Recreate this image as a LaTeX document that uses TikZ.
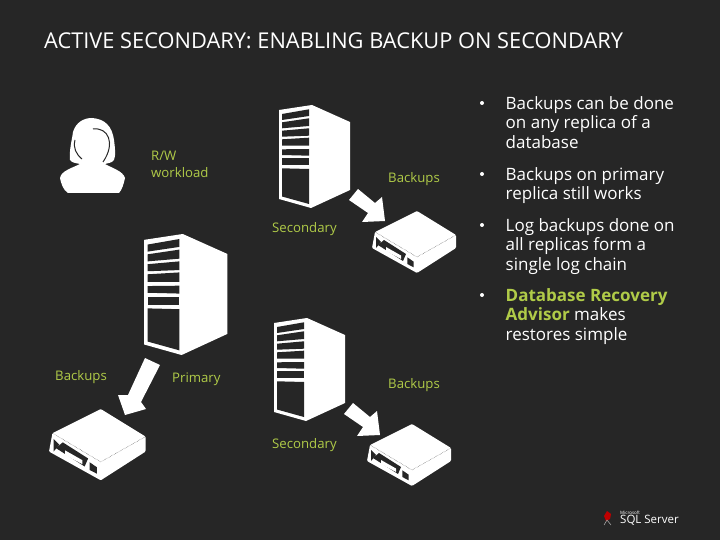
\documentclass[tikz,border=0pt]{standalone}
\usepackage{fontspec}
\setmainfont{Open Sans}
\definecolor{slidebg}{RGB}{38,38,38}
\definecolor{labelgreen}{RGB}{176,203,72}
\tikzset{
	titletext/.style={anchor=west, inner sep=0, white, font=\fontsize{21.8}{24}\selectfont},
	labeltext/.style={anchor=west, inner sep=0, align=left, labelgreen, font=\fontsize{13.2}{17}\selectfont},
	bullettext/.style={anchor=north west, inner sep=0, align=left, white, font=\fontsize{17}{19.5}\selectfont},
	bulletdot/.style={circle, fill=white, inner sep=0, minimum size=4pt},
}
\def\drawserver(#1,#2,#3){
	\begin{scope}[shift={(#1,#2)}, xscale=#3, yscale=#3]
		\fill[white] (0,5) -- (33,0) -- (71,17) -- (71,85) -- (32,103) -- (0,94) -- cycle;
		\foreach \la/\lb/\ra/\rb in {9/15/4.3/11, 17.3/23.3/13.3/21, 25.7/31.7/23.3/30.7, 34.3/40.7/32.7/40.7, 44.3/50/44/50.7, 53.3/60/53.3/60}
			\fill[slidebg] (3,\la) -- (30,\ra) -- (30,\rb) -- (3,\lb) -- cycle;
		\fill[slidebg] (3,63.3) -- (30,64) -- (30,99) -- (3,91.5) -- cycle;
	\end{scope}
}
\def\drawdisk(#1,#2,#3){
	\begin{scope}[shift={(#1,#2)}, xscale=#3, yscale=#3]
		\fill[white, rounded corners=1pt] (3,21) -- (45,0) -- (84,24) -- (84,37) -- (45,62) -- (0,37) -- cycle;
		\draw[slidebg, line width=0.4pt, densely dotted] (3,21) -- (45,46) -- (84,24);
		\fill[slidebg] (4,26) -- (4,37) -- (9,31) -- cycle;
		\fill[slidebg] (6,34) -- (12,29) -- (34,43) -- (31,50) -- cycle;
		\fill[white] (14,36) -- (29,44.5) -- (29,48) -- (14,40) -- cycle;
		\fill[slidebg] (35.3,46.3) -- (35.3,53) -- (41.7,56.3) -- (41.7,50.7) -- cycle;
	\end{scope}
}
\def\drawarrowa(#1,#2){
	\fill[white, shift={(#1,#2)}] (0,11) -- (9,0) -- (26,14) -- (33,8) -- (36,32) -- (13,33) -- (19,24) -- cycle;
}
\begin{document}
\begin{tikzpicture}[x=1pt, y=-1pt]
	%%%%% BACKGROUND %%%%%
	\fill[slidebg] (0,0) rectangle (720,540);
	\useasboundingbox (0,0) rectangle (720,540);

	\node[titletext] (title) at (44,41) {ACTIVE SECONDARY: ENABLING BACKUP ON SECONDARY};

	%%%%% PERSON %%%%%
	\fill[white] (68,193) .. controls (63,190) and (61,183) .. (60,178)
		.. controls (61,171) and (72,168) .. (80,164)
		.. controls (76,163) and (72,163) .. (70,160)
		.. controls (69,150) and (72,140) .. (73,132)
		.. controls (76,122) and (84,118) .. (92,118)
		.. controls (105,119) and (112,126) .. (114,140)
		.. controls (115,148) and (116,155) .. (114,160)
		.. controls (112,163) and (108,163) .. (105,164)
		.. controls (112,168) and (123,171) .. (125,178)
		.. controls (124,183) and (122,190) .. (119,193) -- cycle;
	\draw[slidebg, line width=1pt] (75,140) .. controls (73,148) and (76,154) .. (82,159);
	\draw[slidebg, line width=1pt] (93,129) .. controls (108,127) and (116,143) .. (103,162);

	%%%%% SERVERS %%%%%
	\drawserver(279,105,1)
	\drawserver(144,234,1.175)
	\drawserver(274,318,1)

	%%%%% DISKS %%%%%
	\drawdisk(372,211,1)
	\drawdisk(367,424,1)
	\drawdisk(49,409,1.15)

	%%%%% ARROWS %%%%%
	\drawarrowa(349,189)
	\drawarrowa(344,403)
	\fill[white] (145,358) -- (160,365) -- (141,402) -- (146,409) -- (125,415) -- (118,395) -- (128,395) -- cycle;

	%%%%% LABELS %%%%%
	\node[labeltext] (workload) at (151,164) {R/W\\workload};
	\node[labeltext] (backupsa) at (388,179.5) {Backups};
	\node[labeltext] (seconda) at (272,229.5) {Secondary};
	\node[labeltext] (backupsb) at (55,377.5) {Backups};
	\node[labeltext] (primary) at (172,379.5) {Primary};
	\node[labeltext] (backupsc) at (388,385.5) {Backups};
	\node[labeltext] (secondb) at (272,445.5) {Secondary};

	%%%%% BULLETS %%%%%
	\node[bulletdot] (dota) at (482,103) {};
	\node[bullettext] (texta) at (505.5,96) {Backups can be done\\on any replica of a\\database};
	\node[bulletdot] (dotb) at (482,174) {};
	\node[bullettext] (textb) at (505.5,167) {Backups on primary\\replica still works};
	\node[bulletdot] (dotc) at (482,225) {};
	\node[bullettext] (textc) at (505.5,218) {Log backups done on\\all replicas form a\\single log chain};
	\node[bulletdot] (dotd) at (482,295) {};
	\node[bullettext] (textd) at (505.5,288) {\textcolor{labelgreen}{\textbf{Database Recovery}}\\\textcolor{labelgreen}{\textbf{Advisor}} makes\\restores simple};

	%%%%% LOGO %%%%%
	\fill[red!75!black] (607,511) -- (611,514) -- (610,519) -- (606,521) -- (604,516) -- cycle;
	\draw[white!70!black, line width=0.5pt] (604,525) -- (607,520) -- (611,525);
	\node[anchor=west, inner sep=0, white, font=\fontsize{4.5}{5}\selectfont] (msname) at (620,512.5) {Microsoft};
	\node[anchor=west, inner sep=0, white, font=\fontsize{11.5}{12}\selectfont] (sqlname) at (620,520) {SQL Server};
\end{tikzpicture}
\end{document}
